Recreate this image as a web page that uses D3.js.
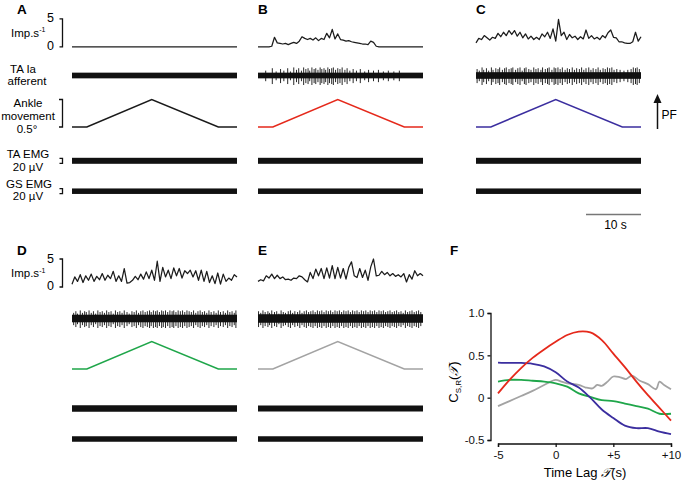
<!DOCTYPE html>
<html><head><meta charset="utf-8">
<script src="https://cdn.jsdelivr.net/npm/d3@7"></script>
<style>
body{margin:0;background:#fff;}
svg{display:block;font-family:"Liberation Sans",Arial,Helvetica,sans-serif;}
</style></head><body>
<svg id="c" width="685" height="483"></svg>
<script>
// ---------------- DATA ----------------
const panelLetters = ["A","B","C","D","E"];
const sampleStep = 0.5; // s between rate samples
// instantaneous firing rate (imp/s), one value per 0.5 s, 0..30 s
const rateA = [0,0,0,0,0,0,0,0,0,0, 0,0,0,0,0,0,0,0,0,0, 0,0,0,0,0,0,0,0,0,0,
               0,0,0,0,0,0,0,0,0,0, 0,0,0,0,0,0,0,0,0,0, 0,0,0,0,0,0,0,0,0,0, 0];
const rateB = [0,0,0,0,0,0.1,1.7,0.7,0.6,0.5,
               0.6,0.4,0.6,0.8,0.6,1.0,1.8,1.5,1.3,1.5,
               1.2,1.6,1.1,1.5,1.3,2.4,1.6,3.1,1.4,2.3,
               1.3,1.2,1.0,1.1,0.9,0.8,0.7,0.6,0.5,0.5,
               0.4,1.0,0.8,0.1,0,0,0,0,0,0,
               0,0,0,0,0,0,0,0,0,0, 0];
const rateC = [0.7,1.5,1.3,2.0,1.6,1.2,1.7,1.5,2.4,1.8,
               2.6,2.0,2.9,2.2,2.9,1.9,2.6,1.6,2.3,1.4,
               1.9,1.3,1.7,1.3,2.3,1.8,2.6,1.5,3.2,1.0,
               4.9,2.0,2.6,1.3,2.2,1.6,1.9,1.3,1.8,1.4,
               3.0,1.5,2.0,1.4,1.7,1.3,2.0,1.6,2.5,3.0,
               1.7,1.6,0.9,0.9,0.7,0.6,0.6,0.9,2.6,1.0, 1.8];
const rateD = [0.5,1.8,1.0,2.2,0.8,2.0,1.2,2.3,1.0,1.9,
               1.3,2.4,1.2,2.1,1.5,2.8,1.0,2.0,1.0,3.3,
               0.7,0.8,1.2,1.9,1.3,2.3,1.4,2.7,1.5,3.0,
               1.2,4.6,1.0,3.5,1.8,3.0,1.5,3.4,2.0,3.3,
               1.6,2.9,2.4,3.0,1.8,2.9,1.2,3.0,1.0,2.8,
               0.8,2.0,0.6,2.5,0.5,2.3,1.0,1.6,1.2,2.2, 1.8];
const rateE = [1.0,1.3,1.1,2.0,1.6,2.3,1.5,2.1,1.5,1.8,
               1.3,1.4,1.2,1.6,1.5,2.0,1.8,1.3,0.9,2.6,
               1.5,3.2,2.0,3.3,1.5,3.4,1.6,3.8,1.5,3.5,
               1.6,3.3,1.4,3.5,4.5,2.0,1.7,3.3,1.7,3.0,
               1.2,3.6,5.0,2.0,2.1,2.8,2.2,2.6,2.0,2.4,
               1.9,2.2,1.8,2.4,0.9,2.2,1.4,2.9,2.0,2.4, 2.0];

// Ia afferent spikes: [time s, relative amplitude]
const spikesA = [];
const spikesB = [[1.4,0.6],[2.6,0.9],[3.3,0.5],[4.1,0.8],[4.7,0.6],[5.4,0.9],[5.9,0.5],[6.5,1],[7.0,0.7],[7.4,0.9],[7.9,0.6],[8.3,1],[8.7,0.8],[9.1,0.9],[9.4,0.6],[9.8,1],[10.2,0.8],[10.5,0.9],[10.9,0.7],[11.3,1],[11.6,0.8],[12.0,0.9],[12.3,0.7],[12.7,1],[13.0,0.8],[13.4,0.9],[13.7,1],[14.1,0.7],[14.5,0.9],[14.9,0.8],[15.3,1],[15.8,0.7],[16.2,0.9],[16.7,0.6],[17.3,0.8],[17.9,0.6],[18.6,0.8],[19.4,0.5],[20.1,0.7],[21.0,0.6],[21.9,0.7],[22.8,0.5],[23.7,0.6],[24.7,0.5],[25.7,0.6]];
const spikesC = [[0.2,0.8],[0.6,0.6],[1.1,1],[1.4,0.7],[1.9,0.9],[2.3,0.6],[2.8,1],[3.1,0.7],[3.6,0.9],[4.0,0.8],[4.3,1],[4.8,0.7],[5.2,0.9],[5.5,1],[6.0,0.8],[6.4,0.9],[6.7,1],[7.2,0.7],[7.6,0.9],[8.0,1],[8.4,0.6],[8.8,0.9],[9.1,1],[9.6,0.8],[10.0,0.7],[10.5,1],[10.9,0.8],[11.3,0.9],[11.8,0.7],[12.1,1],[12.6,0.8],[13.0,0.9],[13.3,1],[13.8,0.7],[14.2,1],[14.5,0.9],[14.9,1],[15.3,0.8],[15.7,1],[16.2,0.7],[16.6,0.9],[17.0,0.8],[17.5,1],[17.9,0.7],[18.3,0.9],[18.8,0.8],[19.2,1],[19.6,0.7],[20.0,0.9],[20.5,1],[20.9,0.7],[21.3,0.9],[21.8,0.8],[22.2,1],[22.6,0.7],[23.1,0.9],[23.5,0.8],[23.9,1],[24.3,0.9],[24.7,1],[25.1,0.7],[25.6,0.8],[26.2,0.7],[26.9,0.6],[27.6,0.7],[28.2,0.8],[28.6,1],[29.0,0.9],[29.3,1],[29.7,0.8]];
const spikesD = [[0.3,0.7],[0.7,0.9],[1.0,0.6],[1.5,1],[1.9,0.7],[2.3,0.9],[2.6,0.8],[3.1,1],[3.5,0.7],[3.9,0.9],[4.3,0.6],[4.7,1],[5.1,0.8],[5.5,0.9],[5.9,0.7],[6.3,1],[6.7,0.8],[7.1,0.9],[7.5,0.6],[7.9,1],[8.3,0.8],[8.7,0.9],[9.1,0.7],[9.5,1],[10.0,0.8],[10.4,0.6],[10.9,0.9],[11.3,0.8],[11.7,1],[12.1,0.7],[12.5,0.9],[12.9,1],[13.3,0.8],[13.7,0.9],[14.1,1],[14.4,0.8],[14.8,1],[15.2,0.9],[15.5,1],[15.9,0.8],[16.3,1],[16.6,0.9],[17.0,1],[17.4,0.8],[17.8,1],[18.2,0.9],[18.5,1],[18.9,0.8],[19.3,1],[19.7,0.9],[20.1,1],[20.5,0.8],[20.9,1],[21.3,0.9],[21.7,0.8],[22.1,1],[22.5,0.7],[22.9,0.9],[23.3,1],[23.7,0.8],[24.1,0.9],[24.5,0.7],[24.9,1],[25.3,0.8],[25.8,0.9],[26.2,0.7],[26.6,1],[27.0,0.8],[27.5,0.9],[27.9,0.7],[28.3,1],[28.7,0.8],[29.1,0.9],[29.5,0.7],[29.8,1]];
const spikesE = [[0.1,0.9],[0.5,0.7],[0.9,1],[1.3,0.8],[1.8,0.9],[2.1,0.7],[2.5,1],[3.0,0.8],[3.4,0.9],[3.8,0.6],[4.2,1],[4.6,0.8],[5.0,0.7],[5.5,0.9],[5.9,1],[6.3,0.7],[6.7,0.9],[7.2,0.8],[7.6,1],[8.0,0.7],[8.4,0.9],[8.8,1],[9.2,0.8],[9.6,0.9],[10.0,1],[10.4,0.8],[10.8,1],[11.2,0.9],[11.6,1],[12.0,0.8],[12.4,1],[12.8,0.9],[13.2,1],[13.6,0.8],[14.0,1],[14.4,0.9],[14.8,1],[15.2,0.8],[15.6,1],[16.0,0.9],[16.4,1],[16.8,0.8],[17.2,1],[17.6,0.9],[18.0,1],[18.4,0.8],[18.8,1],[19.2,0.9],[19.6,1],[20.0,0.8],[20.4,1],[20.8,0.9],[21.2,1],[21.6,0.8],[22.0,1],[22.4,0.9],[22.8,1],[23.2,0.8],[23.6,0.9],[24.0,1],[24.4,0.8],[24.8,0.9],[25.2,1],[25.6,0.8],[26.0,0.9],[26.4,0.7],[26.8,1],[27.2,0.8],[27.6,0.9],[28.0,1],[28.4,0.8],[28.8,0.9],[29.2,1],[29.6,0.8]];
const iaNoiseAmp = [0.3,0.3,0.35,0.4,0.45];   // background noise half-amplitude (a.u.)

// ankle movement profile (deg)
const ankleTime  = [0, 2.7, 14.5, 26.6, 30];
const ankleAngle = [0, 0, 0.5, 0, 0];

// EMG band half-amplitudes (µV)
const emgTAAmp = [12,12,12,13,12];
const emgGSAmp = [11,11,11,11,11];

// cross-correlation C_S,R(lag)
const lags      = [-5,-4,-3,-2,-1,0,1,2,3,4,5,6,7,8,9,10];
const corrRed   = [0.05,0.21,0.35,0.47,0.57,0.66,0.74,0.78,0.77,0.68,0.52,0.36,0.19,0.03,-0.12,-0.27];
const corrBlue  = [0.415,0.41,0.41,0.40,0.37,0.30,0.19,0.12,0.0,-0.14,-0.24,-0.33,-0.36,-0.36,-0.40,-0.43];
const corrGreen = [0.19,0.21,0.21,0.20,0.19,0.17,0.13,0.05,0.01,-0.03,-0.04,-0.07,-0.10,-0.13,-0.19,-0.19];
const grayLags  = [-5,-4,-3,-2,-1,0,0.5,1,2,2.6,3.2,3.6,4.0,4.5,5.0,5.6,6.1,6.6,7.3,8.0,8.7,9.0,9.4,10];
const corrGray  = [-0.10,-0.04,0.02,0.08,0.15,0.21,0.19,0.17,0.15,0.12,0.11,0.15,0.14,0.19,0.25,0.24,0.22,0.26,0.20,0.16,0.10,0.19,0.15,0.10];
const xTicks = [-5,0,5,10];
const xTickLabels = ["-5","0","+5","+10"];
const yTicks = [-0.5,0,0.5,1.0];
const yTickLabels = ["-0.5","0","0.5","1.0"];

// ---------------- DRAW ----------------
const colors = ["#1a1a1a","#e5291b","#3b2e9f","#1fa64a","#a3a3a3"];
const svg = d3.select("#c");
const rates = [rateA,rateB,rateC,rateD,rateE];
const spikes = [spikesA,spikesB,spikesC,spikesD,spikesE];
const panelX = [72,258,476,72,258];
const rows = [
  {rate0:46.8, ia:75, ank0:127, emgTA:160.8, emgGS:191.2, letterY:13.5},
  {rate0:287, ia:318, ank0:369, emgTA:408.5, emgGS:439, letterY:254.5}
];
const panelRow = [0,0,0,1,1];
const W = 165;

function rateScale(r){ return d3.scaleLinear().domain([0,5]).range([r.rate0, r.rate0-28]); }
function ankScale(r){ return d3.scaleLinear().domain([0,0.5]).range([r.ank0, r.ank0-27.5]); }
function iaScale(r){ return d3.scaleLinear().domain([-1,1]).range([r.ia+10, r.ia-9]); }
function emgScale(c){ return d3.scaleLinear().domain([-20,20]).range([c+5, c-5]); }

panelLetters.forEach((L,i)=>{
  const r = rows[panelRow[i]];
  const x = d3.scaleLinear().domain([0,30]).range([panelX[i], panelX[i]+W]);
  const ry = rateScale(r), ay = ankScale(r), iy = iaScale(r);
  const g = svg.append("g");
  // letter
  g.append("text").attr("y", r.letterY)
   .attr("font-weight","bold").attr("font-size",13.5).text(L)
   .attr("x", i===0||i===3 ? 17 : panelX[i]);
  // rate trace
  g.append("path").datum(rates[i])
   .attr("d", d3.line().x((d,k)=>x(k*sampleStep)).y(d=>ry(d)))
   .attr("fill","none").attr("stroke","#1c1c1c").attr("stroke-width",1.25).attr("stroke-linejoin","round");
  // Ia noise band
  const nA = iaNoiseAmp[i];
  g.append("rect").attr("x",x(0)).attr("width",x(30)-x(0))
   .attr("y", iy(nA)).attr("height", iy(-nA)-iy(nA)).attr("fill","#111");
  // spikes
  g.selectAll("line.sp").data(spikes[i]).join("line")
   .attr("x1",d=>x(d[0])).attr("x2",d=>x(d[0]))
   .attr("y1",d=>iy(d[1]*0.85)).attr("y2",d=>iy(-d[1]))
   .attr("stroke","#111").attr("stroke-width",0.9);
  // ankle
  g.append("path").datum(ankleTime.map((t,k)=>[t,ankleAngle[k]]))
   .attr("d", d3.line().x(d=>x(d[0])).y(d=>ay(d[1])))
   .attr("fill","none").attr("stroke",colors[i]).attr("stroke-width",1.6);
  // EMG bands
  const ety = emgScale(r.emgTA), egy = emgScale(r.emgGS);
  g.append("rect").attr("x",x(0)).attr("width",x(30)-x(0))
   .attr("y",ety(emgTAAmp[i])).attr("height",ety(-emgTAAmp[i])-ety(emgTAAmp[i])).attr("fill","#111");
  g.append("rect").attr("x",x(0)).attr("width",x(30)-x(0))
   .attr("y",egy(emgGSAmp[i])).attr("height",egy(-emgGSAmp[i])-egy(emgGSAmp[i])).attr("fill","#111");
});

// scale brackets & labels (panel A and D)
function bracket(x0, y0, y1, w){
  svg.append("path").attr("d",`M${x0-w},${y0}H${x0}V${y1}H${x0-w}`)
   .attr("fill","none").attr("stroke","#111").attr("stroke-width",1.3);
}
const fs = 11.5;
[0,1].forEach(ri=>{
  const r = rows[ri], ry = rateScale(r);
  bracket(62.5, ry(5), ry(0), 3);
  svg.append("text").attr("x",54).attr("y",ry(5)+3.5).attr("text-anchor","end").attr("font-size",fs+1).text("5");
  svg.append("text").attr("x",54).attr("y",ry(0)+3).attr("text-anchor","end").attr("font-size",fs+1).text("0");
  const t = svg.append("text").attr("x",11).attr("y",(ry(5)+ry(0))/2+4).attr("font-size",fs);
  t.append("tspan").text("Imp.s");
  t.append("tspan").attr("font-size",7).attr("dy",-4.5).text("-1");
});
{
  const r = rows[0];
  const ay = ankScale(r);
  bracket(62.5, ay(0.5), ay(0), 3.5);
  const ety = emgScale(r.emgTA), egy = emgScale(r.emgGS);
  bracket(62.5, ety(-10), ety(10), 3);
  bracket(62.5, egy(-10), egy(10), 3);
  const lab = (txt,x,y,anchor)=>svg.append("text").attr("x",x).attr("y",y).attr("font-size",fs).attr("text-anchor",anchor).text(txt);
  lab("TA Ia",23,72.5,"middle");
  lab("afferent",27,85,"middle");
  lab("Ankle",28,107,"middle");
  lab("movement",28,120,"middle");
  lab("0.5°",27,132.5,"middle");
  lab("TA EMG",28,158,"middle");
  lab("20 µV",28,170.5,"middle");
  lab("GS EMG",29,188,"middle");
  lab("20 µV",28,200,"middle");
}
// PF arrow
svg.append("line").attr("x1",657.5).attr("x2",657.5).attr("y1",129).attr("y2",101)
  .attr("stroke","#111").attr("stroke-width",1.5);
svg.append("path").attr("d","M657.5,94L653.5,103L661.5,103Z").attr("fill","#111");
svg.append("text").attr("x",661.5).attr("y",119).attr("font-size",fs+0.5).text("PF");
// 10 s scale bar (panel C time axis)
{
  const xC = d3.scaleLinear().domain([0,30]).range([476,476+W]);
  svg.append("line").attr("x1",xC(20)).attr("x2",xC(30)).attr("y1",214.5).attr("y2",214.5)
   .attr("stroke","#777").attr("stroke-width",1.6);
  svg.append("text").attr("x",xC(25)+2).attr("y",229).attr("text-anchor","middle").attr("font-size",fs+0.5).text("10 s");
}

// ---------------- Panel F ----------------
svg.append("text").attr("x",450).attr("y",254.5).attr("font-weight","bold").attr("font-size",13.5).text("F");
const fx = d3.scaleLinear().domain([-5,10]).range([498,671]);
const fy = d3.scaleLinear().domain([-0.5,1]).range([440,313]);
const yAxis = d3.axisLeft(fy).tickValues(yTicks).tickFormat((d,i)=>yTickLabels[i]).tickSizeOuter(0).tickSize(3).tickPadding(3);
const gy = svg.append("g").attr("transform","translate(490.5,0)").call(yAxis);
const xAxis = d3.axisBottom(fx).tickValues(xTicks).tickFormat((d,i)=>xTickLabels[i]).tickSizeOuter(0).tickSize(3.5).tickPadding(4);
const gx = svg.append("g").attr("transform","translate(0,443.5)").call(xAxis);
[gx,gy].forEach(g=>{
  g.selectAll("path,line").attr("stroke","#111").attr("stroke-width",1.3);
  g.selectAll("text").attr("font-size",11.5).attr("fill","#111").attr("font-family","'Liberation Sans',Arial,sans-serif");
});
const cline = (xs,ys,col)=>svg.append("path").datum(xs.map((v,k)=>[v,ys[k]]))
  .attr("d",d3.line().x(d=>fx(d[0])).y(d=>fy(d[1])).curve(d3.curveCatmullRom.alpha(0.5)))
  .attr("fill","none").attr("stroke",col).attr("stroke-width",1.8);
cline(grayLags,corrGray,colors[4]);
cline(lags,corrGreen,colors[3]);
cline(lags,corrBlue,colors[2]);
cline(lags,corrRed,colors[1]);
// axis titles
{
  const t = svg.append("text").attr("x",585).attr("y",477).attr("text-anchor","middle").attr("font-size",13);
  t.append("tspan").text("Time Lag ");
  t.append("tspan").attr("font-family","'DejaVu Sans',serif").attr("font-style","italic").text("𝒯");
  t.append("tspan").text("(s)");
  const yl = svg.append("text").attr("transform","translate(458,382) rotate(-90)").attr("text-anchor","middle").attr("font-size",13);
  yl.append("tspan").text("C");
  yl.append("tspan").attr("font-size",8).attr("dy",3).text("S,R");
  yl.append("tspan").attr("dy",-3).text("(");
  yl.append("tspan").attr("font-family","'DejaVu Sans',serif").attr("font-style","italic").text("𝒯");
  yl.append("tspan").text(")");
}
</script>
</body></html>
